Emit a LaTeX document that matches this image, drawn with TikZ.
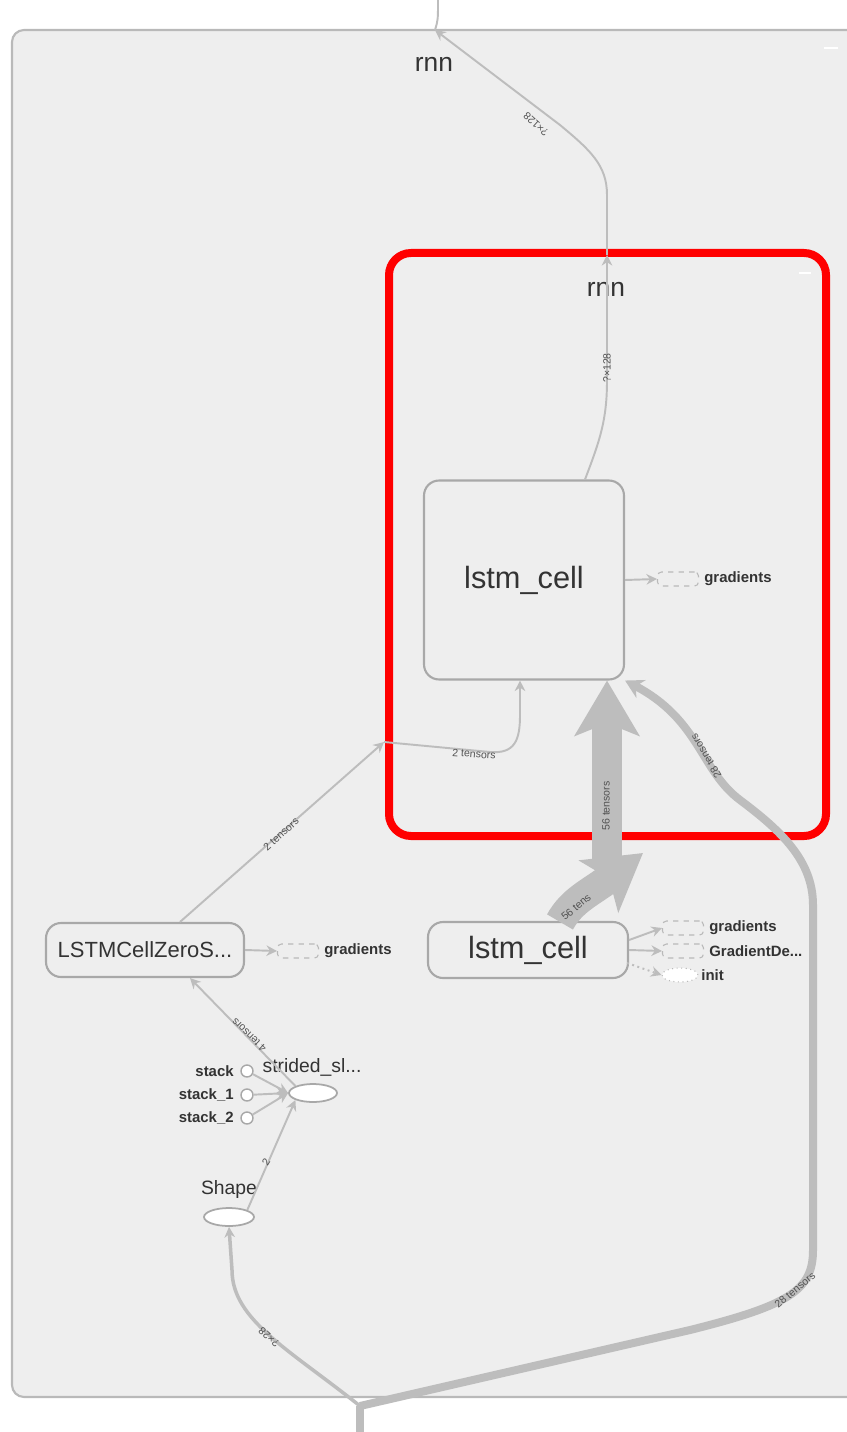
\documentclass[tikz,border=0pt]{standalone}
\usepackage{fontspec}
\setmainfont{Liberation Sans}
\usetikzlibrary{arrows.meta,shapes.geometric,calc}
\definecolor{panel}{HTML}{EEEEEE}
\definecolor{edgegray}{HTML}{BDBDBD}
\definecolor{nodeline}{HTML}{A8A8A8}
\definecolor{labeltext}{HTML}{333333}
\definecolor{focusred}{HTML}{FF0000}
\tikzset{
  opbox/.style={draw=nodeline, line width=1.2pt, rounded corners=0.3cm, fill=panel, text=labeltext, inner sep=0},
  ghostbox/.style={draw=nodeline!80, dashed, line width=0.6pt, rounded corners=0.08cm, fill=panel,
    minimum width=0.82cm, minimum height=0.28cm, inner sep=0},
  opoval/.style={ellipse, draw=nodeline, line width=1pt, fill=white, inner sep=0},
  tbtag/.style={font=\fontsize{8.5}{9}\selectfont\bfseries, text=labeltext, anchor=west, inner sep=0},
  tbcap/.style={font=\fontsize{11}{12}\selectfont, text=labeltext, inner sep=0},
  tbtitle/.style={font=\fontsize{15}{16}\selectfont, text=labeltext, inner sep=0},
  tbelabel/.style={font=\fontsize{6}{6}\selectfont, text=labeltext!85, inner sep=0},
  tbflow/.style={draw=edgegray, line width=1.1pt, -{Stealth[length=6pt,width=6pt]}},
}
\begin{document}
\begin{tikzpicture}[x=0.02cm,y=-0.02cm]
\useasboundingbox (0,0) rectangle (847,1432);
\clip (0,0) rectangle (847,1432);
\fill[white] (0,0) rectangle (847,1432);

% outer rnn group
\draw[draw=nodeline!80, line width=1.2pt, fill=panel, rounded corners=0.24cm] (12,30) rectangle (880,1397);
\node[tbtitle] (outerTitle) at (434,64) {rnn};
\draw[white, line width=1.5pt] (824,48) -- (838,48);

% highlighted inner rnn group
\draw[focusred, line width=0.16cm, rounded corners=0.44cm] (389,253) rectangle (826,836);
\node[tbtitle] (innerTitle) at (606,289) {rnn};
\draw[white, line width=1.2pt] (799,273) -- (811,273);

% operation nodes
\node[opbox, minimum width=4cm, minimum height=3.98cm, font=\fontsize{17.5}{18}\selectfont] (cellIn) at (524,580) {lstm\_cell};
\node[opbox, minimum width=4cm, minimum height=1.12cm, font=\fontsize{17.5}{18}\selectfont] (cellOut) at (528,950) {lstm\_cell};
\node[opbox, minimum width=3.96cm, minimum height=1.08cm, font=\fontsize{12.5}{13}\selectfont] (zeroState) at (145,950) {LSTMCellZeroS...};

% auxiliary nodes
\node[ghostbox] (gradIn) at (678,579) {};
\node[tbtag] (gradInTag) at (704,579) {gradients};
\node[ghostbox] (gradZero) at (298,951) {};
\node[tbtag] (gradZeroTag) at (324,951) {gradients};
\node[ghostbox] (gradOut) at (683,928) {};
\node[tbtag] (gradOutTag) at (709,928) {gradients};
\node[ghostbox] (gradDesc) at (683,951) {};
\node[tbtag] (gradDescTag) at (709,951) {GradientDe...};
\node[ellipse, draw=nodeline!80, dotted, line width=0.6pt, fill=white, minimum width=0.72cm, minimum height=0.28cm, inner sep=0] (initOp) at (680,975) {};
\node[tbtag] (initTag) at (701,975) {init};

% small graph below
\node[opoval, minimum width=0.96cm, minimum height=0.36cm] (strided) at (313,1093) {};
\node[tbcap] (stridedTag) at (312,1067) {strided\_sl...};
\node[opoval, minimum width=1cm, minimum height=0.36cm] (shapeOp) at (229,1217) {};
\node[tbcap] (shapeTag) at (229,1189) {Shape};
\node[circle, draw=nodeline, fill=white, line width=0.8pt, minimum size=0.24cm, inner sep=0] (stackA) at (247,1071) {};
\node[circle, draw=nodeline, fill=white, line width=0.8pt, minimum size=0.24cm, inner sep=0] (stackB) at (247,1095) {};
\node[circle, draw=nodeline, fill=white, line width=0.8pt, minimum size=0.24cm, inner sep=0] (stackC) at (247,1118) {};
\node[tbtag, anchor=east] (stackATag) at (234,1071) {stack};
\node[tbtag, anchor=east] (stackBTag) at (234,1095) {stack\_1};
\node[tbtag, anchor=east] (stackCTag) at (234,1118) {stack\_2};

% waypoints
\coordinate (redTopCross) at (607,255);
\coordinate (outerTopCross) at (435,30);
\coordinate (topStub) at (438,0);
\coordinate (redLeftCross) at (384,742);
\coordinate (bottomJoin) at (360,1406);
\coordinate (bottomStub) at (360,1432);
\coordinate (thickTip) at (643,853);

% lstm_cell output leaving the groups
\draw[tbflow] ($(cellIn.north)+(61,0)$) .. controls (600,440) and (607,420) .. (607,380) -- (redTopCross);
\draw[tbflow] (redTopCross) -- (607,195) .. controls (607,165) and (590,150) .. (560,125) -- (outerTopCross);
\draw[edgegray, line width=1.1pt] (outerTopCross) .. controls (438,20) .. (topStub);
\node[tbelabel, rotate=90] (lblA) at (607,368) {?×128};
\node[tbelabel, rotate=138] (lblB) at (536,124) {?×128};

% zero state into the group
\draw[tbflow] ($(zeroState.north)+(35,0)$) -- (redLeftCross);
\draw[tbflow] (redLeftCross) -- (490,752) .. controls (515,754) and (520,740) .. (520,715) -- ($(cellIn.south)+(-4,0)$);
\node[tbelabel, rotate=42] (lblC) at (281,834) {2 tensors};
\node[tbelabel, rotate=-4] (lblD) at (474,754) {2 tensors};

% 56 tensors band
\draw[edgegray, line width=0.6cm, -{Stealth[length=1.1cm,width=1.28cm,inset=0.25cm]}] (607,860) -- ($(cellIn.south)+(83,0)$);
\draw[edgegray, line width=0.6cm, -{Stealth[length=1.1cm,width=1.28cm,inset=0.25cm]}] ($(cellOut.north)+(32,1)$) .. controls (572,900) and (590,893) .. (thickTip);
\node[tbelabel, rotate=90] (lblE) at (606,806) {56 tensors};
\node[tbelabel, rotate=40] (lblF) at (576,907) {56 tens};

% 28 tensors band
\draw[edgegray, line width=0.16cm] (bottomStub) -- (bottomJoin);
\draw[edgegray, line width=0.16cm, -{Stealth[length=0.36cm,width=0.4cm]}] (bottomJoin) -- (690,1330) .. controls (790,1305) and (813,1290) .. (813,1250) -- (813,905) .. controls (813,860) and (780,830) .. (740,800) .. controls (700,770) and (700,720) .. (cellIn.south east);
\node[tbelabel, rotate=121] (lblG) at (706,756) {28 tensors};
\node[tbelabel, rotate=40] (lblH) at (795,1290) {28 tensors};

% input to Shape
\draw[tbflow, line width=2pt] (bottomJoin) .. controls (290,1350) and (232,1320) .. (232,1270) -- (shapeOp.south);
\node[tbelabel, rotate=138] (lblI) at (269,1337) {?×28};

% small graph edges
\draw[tbflow] (shapeOp.north east) -- (strided.south west);
\node[tbelabel, rotate=58] (lblJ) at (266,1162) {2};
\draw[tbflow] (strided.north west) -- ($(zeroState.south)+(45,0)$);
\node[tbelabel, rotate=136] (lblK) at (249,1035) {4 tensors};
\draw[tbflow] (stackA) -- (strided.west);
\draw[tbflow] (stackB) -- (strided.west);
\draw[tbflow] (stackC) -- (strided.west);

% auxiliary edges
\draw[tbflow] (cellIn.east) -- (gradIn.west);
\draw[tbflow] (zeroState.east) -- (gradZero.west);
\draw[tbflow] ($(cellOut.east)+(0,-10)$) -- (gradOut.west);
\draw[tbflow] (cellOut.east) -- (gradDesc.west);
\draw[tbflow, dotted] ($(cellOut.east)+(-2,13)$) -- (initOp.west);
\end{tikzpicture}
\end{document}
